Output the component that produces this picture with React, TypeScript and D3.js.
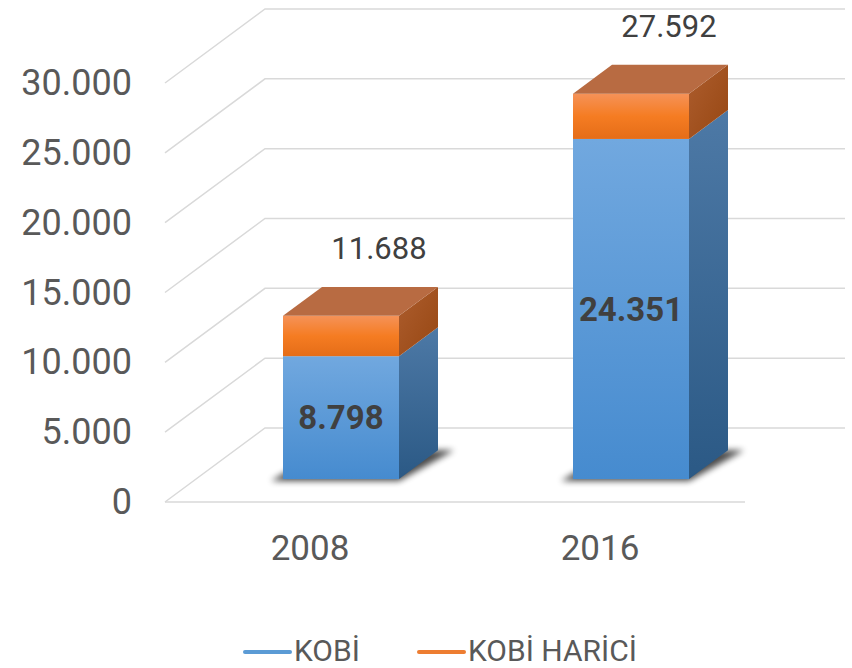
import React from "react";
import * as d3 from "d3";

const categories = ["2008", "2016"];
const kobi = [8798, 24351];
const kobiHarici = [2890, 3241];
const totals = [11688, 27592];
const yTicks = [0, 5000, 10000, 15000, 20000, 25000, 30000];
const seriesNames = ["KOBİ", "KOBİ HARİCİ"];
const seriesColors = ["#5b9bd5", "#ed7d31"];

const W = 852;
const H = 668;
const FONT = "Roboto, 'Open Sans', sans-serif";

const locale = d3.formatLocale({ decimal: ",", thousands: ".", grouping: [3], currency: ["", ""] });
const fmt = locale.format(",");

export default function App() {
  const floorLeft = 165;
  const floorRight = 745;
  const depthX = 100;
  const depthY = 74;
  const z0 = 0.31;
  const z1 = 0.7;

  const x = d3.scaleBand<string>().domain(categories).range([floorLeft, floorRight]).paddingInner(0.6).paddingOuter(0.3);
  const y = d3.scaleLinear().domain([0, 30000]).range([502, 83]);

  const proj = (px: number, v: number, z: number): [number, number] => [px + z * depthX, y(v) - z * depthY];
  const pts = (arr: [number, number][]) => arr.map((p) => p.join(",")).join(" ");

  const segs = categories.map((c, i) => [
    { v0: 0, v1: kobi[i], s: 0 },
    { v0: kobi[i], v1: kobi[i] + kobiHarici[i], s: 1 },
  ]);

  return (
    <svg width={W} height={H} style={{ position: "absolute", left: 0, top: 0, background: "#fff" }}>
      <defs>
        <linearGradient id="blueFront" x1="0" y1="0" x2="0" y2="1">
          <stop offset="0" stopColor="#71a8df" />
          <stop offset="1" stopColor="#468bcf" />
        </linearGradient>
        <linearGradient id="blueSide" x1="0" y1="0" x2="0" y2="1">
          <stop offset="0" stopColor="#4d79a6" />
          <stop offset="1" stopColor="#2b5985" />
        </linearGradient>
        <linearGradient id="orangeFront" x1="0" y1="0" x2="0" y2="1">
          <stop offset="0" stopColor="#f59258" />
          <stop offset="0.5" stopColor="#f57c22" />
          <stop offset="1" stopColor="#e56d18" />
        </linearGradient>
        <linearGradient id="orangeSide" x1="0" y1="0" x2="1" y2="1">
          <stop offset="0" stopColor="#ad5d2e" />
          <stop offset="1" stopColor="#974712" />
        </linearGradient>
        <filter id="shadowBlur" x="-20%" y="-50%" width="140%" height="200%">
          <feGaussianBlur stdDeviation="3" />
        </filter>
      </defs>

      {/* gridlines */}
      <g stroke="#d9d9d9" strokeWidth={1.5} fill="none">
        {yTicks.map((t) => {
          const a = proj(floorLeft, t, 0);
          const b = proj(floorLeft, t, 1);
          const c = proj(floorRight, t, 1);
          return <polyline key={t} points={pts([a, b, c])} />;
        })}
        <line
          x1={proj(floorLeft, 0, 0)[0]}
          y1={proj(floorLeft, 0, 0)[1]}
          x2={proj(floorRight, 0, 0)[0]}
          y2={proj(floorRight, 0, 0)[1]}
        />
      </g>

      {/* y tick labels */}
      <g fontFamily={FONT} fontSize={36} fill="#595959" textAnchor="end">
        {yTicks.map((t) => (
          <text key={t} x={132} y={y(t)} dominantBaseline="central">
            {fmt(t)}
          </text>
        ))}
      </g>

      {/* bars */}
      {categories.map((c, i) => {
        const xl = (x(c) as number);
        const xr = xl + x.bandwidth();
        const sh = [
          [proj(xl - 12, 0, z0)[0], proj(xl, 0, z0)[1] + 2],
          [proj(xr, 0, z0)[0], proj(xr, 0, z0)[1] + 2],
          [proj(xr + 16, 0, z1)[0], proj(xr, 0, z1)[1]],
          [proj(xl, 0, z1)[0], proj(xl, 0, z1)[1]],
        ] as [number, number][];
        return (
          <g key={c}>
            <polygon points={pts(sh)} fill="#000" opacity={0.7} filter="url(#shadowBlur)" />
            {segs[i].map((sg) => {
              const fl = proj(xl, sg.v1, z0);
              const fr = proj(xr, sg.v0, z0);
              const side = [proj(xr, sg.v0, z0), proj(xr, sg.v0, z1), proj(xr, sg.v1, z1), proj(xr, sg.v1, z0)];
              const isTop = sg.s === 1;
              return (
                <g key={sg.s}>
                  <rect
                    x={fl[0]}
                    y={fl[1]}
                    width={fr[0] - fl[0]}
                    height={fr[1] - fl[1]}
                    fill={sg.s === 0 ? "url(#blueFront)" : "url(#orangeFront)"}
                  />
                  <polygon points={pts(side)} fill={sg.s === 0 ? "url(#blueSide)" : "url(#orangeSide)"} />
                  {isTop && (
                    <polygon
                      points={pts([proj(xl, sg.v1, z0), proj(xr, sg.v1, z0), proj(xr, sg.v1, z1), proj(xl, sg.v1, z1)])}
                      fill="#b86b42"
                    />
                  )}
                </g>
              );
            })}
            {/* inner label */}
            <text
              x={(proj(xl, 0, z0)[0] + proj(xr, 0, z0)[0]) / 2}
              y={(proj(xl, 0, z0)[1] + proj(xl, kobi[i], z0)[1]) / 2}
              dominantBaseline="central"
              textAnchor="middle"
              fontFamily={FONT}
              fontWeight="bold"
              fontSize={33}
              fill="#404040"
            >
              {fmt(kobi[i])}
            </text>
            {/* total label */}
            <text
              x={(proj(xl, 0, z0)[0] + proj(xr, 0, z0)[0]) / 2 + 38}
              y={proj(xl, totals[i], z1)[1] - 28}
              textAnchor="middle"
              fontFamily={FONT}
              fontSize={31}
              fill="#404040"
            >
              {fmt(totals[i])}
            </text>
          </g>
        );
      })}

      {/* x labels */}
      <g fontFamily={FONT} fontSize={35} fill="#595959" textAnchor="middle">
        {categories.map((c) => (
          <text key={c} x={(x(c) as number) + x.bandwidth() / 2} y={560}>
            {c}
          </text>
        ))}
      </g>

      {/* legend */}
      <g fontFamily={FONT} fontSize={30} fill="#595959">
        {seriesNames.map((n, i) => {
          const lx = i === 0 ? 245 : 419;
          return (
            <g key={n}>
              <line x1={lx} x2={lx + 45} y1={652} y2={652} stroke={seriesColors[i]} strokeWidth={4} strokeLinecap="round" />
              <text x={lx + 49} y={661}>
                {n}
              </text>
            </g>
          );
        })}
      </g>
    </svg>
  );
}
